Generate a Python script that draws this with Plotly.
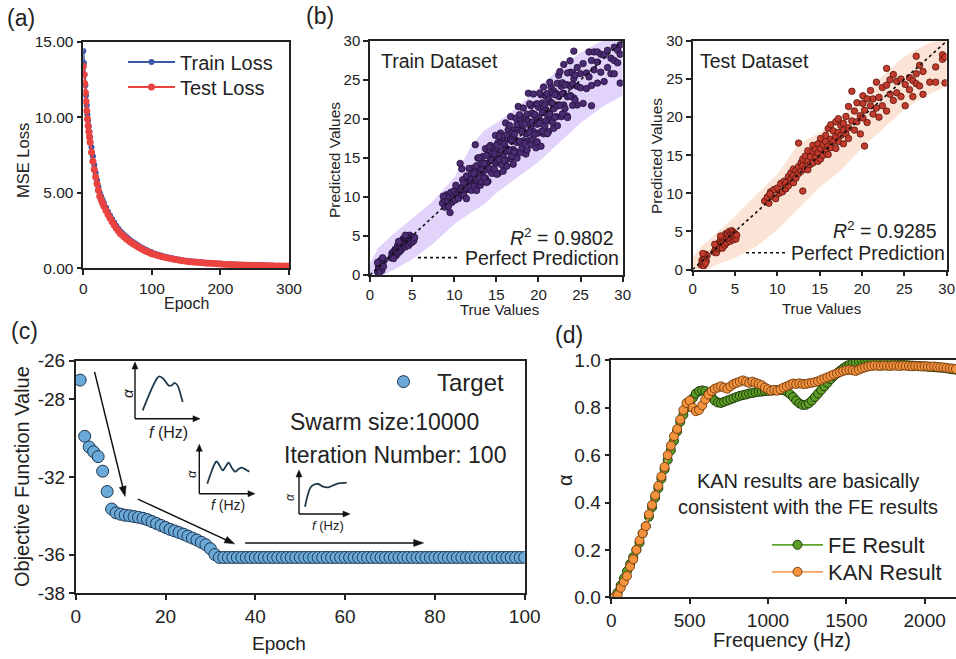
import math
import plotly.graph_objects as go

W, H = 956, 659
FONT = "Arial, Liberation Sans, Helvetica, sans-serif"
INK = "#222222"

# ---------------- (a) training / test loss ----------------
loss_epochs = [0, 1, 2, 3, 4, 5, 6, 7, 8, 9, 10,
               12, 14, 16, 18, 20, 22, 24, 26, 28, 30,
               33, 36, 39, 42, 45, 48, 51, 54, 57, 60, 63, 66, 69, 72, 75, 78, 81, 84, 87, 90, 93, 96, 99,
               100, 105, 110, 115, 120, 125, 130, 135, 140, 145, 150, 155, 160, 165, 170, 175, 180, 185,
               190, 195, 200, 205, 210, 215, 220, 225, 230, 235, 240, 245, 250, 255, 260, 265, 270, 275,
               280, 285, 290, 295, 300]
train_loss = [14.4, 13.6, 12.84, 12.13, 11.45, 10.81, 10.2, 9.8, 9.42, 9.05, 8.7,
              8.03, 7.42, 6.85, 6.33, 5.84, 5.4, 5.0, 4.77, 4.54, 4.33,
              4.03, 3.75, 3.5, 3.25, 3.03, 2.82, 2.63, 2.45, 2.32, 2.19, 2.07, 1.96, 1.85, 1.75, 1.66,
              1.57, 1.48, 1.4, 1.33, 1.25, 1.19, 1.12, 1.06,
              1.04, 0.96, 0.89, 0.83, 0.77, 0.72, 0.67, 0.62, 0.58, 0.54, 0.5, 0.48, 0.45, 0.43, 0.41,
              0.39, 0.37, 0.36, 0.34, 0.32, 0.31, 0.29, 0.28, 0.27, 0.25, 0.24, 0.24, 0.23, 0.22, 0.21,
              0.21, 0.2, 0.19, 0.19, 0.18, 0.18, 0.17, 0.17, 0.16, 0.16, 0.15]
test_loss = [13.4, 12.85, 12.25, 11.65, 11.05, 10.45, 9.9, 9.45, 9.05, 8.7, 8.35,
             7.7, 7.1, 6.55, 6.05, 5.6, 5.17, 4.78, 4.55, 4.33, 4.12,
             3.83, 3.56, 3.32, 3.08, 2.87, 2.67, 2.49, 2.31, 2.19, 2.07, 1.95, 1.85, 1.74, 1.65, 1.56,
             1.48, 1.39, 1.32, 1.25, 1.17, 1.12, 1.05, 0.99,
             0.97, 0.9, 0.83, 0.77, 0.72, 0.67, 0.62, 0.58, 0.54, 0.5, 0.47, 0.44, 0.42, 0.4, 0.38,
             0.36, 0.34, 0.33, 0.31, 0.3, 0.28, 0.27, 0.26, 0.25, 0.24, 0.23, 0.22, 0.21, 0.21, 0.2,
             0.19, 0.19, 0.18, 0.18, 0.17, 0.17, 0.16, 0.16, 0.15, 0.15, 0.15]

# ---------------- (b) true vs predicted ----------------
train_points = [
    (0.9, 0.4), (1.0, 1.1), (1.0, 0.7), (1.1, 1.5), (1.2, 0.9), (1.2, 1.8), (1.3, 1.3), (1.4, 0.6),
    (1.4, 2.0), (1.5, 1.5), (1.6, 1.1), (1.7, 1.9), (1.1, 0.3), (1.5, 2.2), (0.9, 1.6),
    (2.5, 2.2), (2.6, 2.8), (2.7, 2.4), (2.8, 3.0), (2.9, 2.6), (3.0, 3.3), (3.0, 2.9), (3.1, 2.5),
    (3.2, 3.5), (3.2, 3.0), (3.3, 3.8), (3.3, 2.8), (3.4, 3.3), (3.5, 3.9), (3.5, 3.0), (3.6, 3.6),
    (3.6, 4.1), (3.7, 3.2), (3.7, 3.8), (3.8, 4.3), (3.8, 3.5), (3.9, 4.0), (3.9, 4.6), (4.0, 3.7),
    (4.0, 4.3), (4.1, 4.8), (4.1, 4.0), (4.2, 3.6), (4.2, 4.5), (4.3, 4.9), (4.3, 4.2), (4.4, 3.9),
    (4.4, 4.6), (4.5, 5.0), (4.5, 4.3), (4.6, 4.7), (4.6, 3.8), (4.7, 4.4), (4.7, 5.1), (4.8, 4.8),
    (4.8, 4.1), (4.9, 4.5), (5.0, 4.9), (5.0, 4.2), (5.1, 4.6), (5.2, 4.4), (5.3, 4.8), (4.2, 5.1),
    (3.4, 4.3), (2.8, 2.1),
    (8.6, 9.2), (8.8, 9.7), (8.9, 8.7), (9.1, 10.3), (9.2, 9.5), (9.4, 10.1), (9.5, 8.0), (9.6, 10.6),
    (9.7, 9.3), (9.9, 10.0), (10.0, 10.8), (10.1, 9.6), (10.3, 10.3), (10.4, 11.2), (10.5, 9.8),
    (10.6, 10.6), (10.7, 14.3), (10.8, 11.0), (10.9, 13.6), (8.7, 10.1), (9.3, 8.8), (10.2, 11.5),
    (11.0, 11.3), (11.0, 10.2), (11.0, 12.2), (11.3, 11.8), (11.3, 10.9), (11.6, 12.6), (11.6, 11.0),
    (11.6, 11.6), (11.9, 11.0), (11.9, 12.3), (12.2, 13.7), (12.2, 12.0), (12.2, 11.0), (12.5, 16.7),
    (12.5, 13.3), (12.5, 12.0), (12.8, 15.0), (12.8, 11.9), (12.8, 13.1), (13.1, 14.1), (13.1, 11.5),
    (13.1, 13.1), (13.4, 15.2), (13.4, 12.7), (13.7, 14.3), (13.7, 12.4), (13.7, 16.2), (14.0, 13.7),
    (14.0, 15.4), (14.0, 12.0), (14.3, 16.6), (14.3, 13.5), (14.3, 14.8), (14.6, 16.2), (14.6, 13.1),
    (14.6, 14.6), (14.9, 17.9), (14.9, 14.3), (14.9, 15.8), (15.2, 13.0), (15.2, 17.0), (15.2, 15.0),
    (15.5, 18.2), (15.5, 15.9), (15.5, 14.3), (15.8, 15.2), (15.8, 17.3), (15.8, 13.3), (16.1, 19.5),
    (16.1, 16.3), (16.1, 14.7), (16.4, 17.4), (16.4, 16.1), (16.4, 18.6), (16.7, 14.9), (16.7, 17.4),
    (16.7, 20.3), (17.0, 16.1), (17.0, 18.6), (17.0, 14.2), (17.3, 20.1), (17.3, 17.3), (17.3, 15.8),
    (17.6, 18.8), (17.6, 17.1), (17.6, 21.6), (17.9, 15.7), (17.9, 18.5), (17.9, 19.9), (18.2, 17.2),
    (18.2, 21.4), (18.2, 18.5), (18.5, 20.3), (18.5, 15.5), (18.5, 18.1), (18.8, 23.3), (18.8, 19.7),
    (18.8, 17.2), (19.1, 18.9), (19.1, 21.7), (19.1, 16.7), (19.4, 20.6), (19.4, 18.4), (19.4, 23.2),
    (19.7, 16.3), (19.7, 20.2), (19.7, 21.9), (20.0, 21.5), (20.0, 18.2), (20.0, 20.2), (20.3, 16.5),
    (20.3, 23.1), (20.3, 19.7), (20.6, 21.6), (20.6, 18.1), (20.6, 24.1), (20.9, 19.7), (20.9, 21.2),
    (20.9, 22.9), (21.2, 18.4), (21.2, 22.6), (21.2, 20.9), (21.5, 24.1), (21.5, 19.9), (21.5, 22.1),
    (21.8, 21.3), (21.8, 23.6), (21.8, 18.8), (22.1, 23.3), (22.1, 20.3), (22.4, 25.6), (22.4, 21.8),
    (22.4, 22.9), (22.7, 20.3), (22.7, 24.2), (23.0, 23.3), (23.0, 27.0), (23.0, 21.8), (23.4, 20.4),
    (23.4, 24.4), (23.8, 26.0), (23.8, 23.0), (23.8, 24.2), (24.2, 28.7), (24.2, 22.7), (24.2, 25.2),
    (24.6, 24.2), (24.6, 21.8), (24.6, 26.6), (25.0, 25.8), (25.0, 24.0), (25.3, 22.0), (25.3, 27.1),
    (25.7, 25.9), (25.7, 23.9), (26.0, 28.6), (26.0, 25.4), (26.3, 21.7), (26.3, 27.5), (26.3, 24.3),
    (26.6, 28.6), (26.6, 26.3), (27.0, 28.6), (27.0, 24.6), (27.0, 27.3), (27.4, 26.0), (27.4, 28.3),
    (27.8, 24.8), (27.8, 28.2), (28.2, 28.8), (28.2, 26.6), (28.6, 25.8), (28.6, 27.8), (29.0, 29.2),
    (29.0, 25.8), (29.0, 27.5), (29.4, 28.8), (29.4, 27.2), (29.7, 24.6), (29.7, 29.5), (29.7, 28.3),
    (11.15, 11.76), (11.15, 10.24), (11.45, 11.14), (11.45, 12.7), (11.45, 9.79), (11.75, 13.66),
    (11.75, 11.33), (12.05, 12.27), (12.05, 10.85), (12.05, 13.03), (12.35, 13.02), (12.35, 11.35),
    (12.65, 12.31), (12.65, 14.02), (12.65, 10.83), (12.95, 15.04), (12.95, 12.49), (13.25, 13.49),
    (13.25, 11.94), (13.25, 14.32), (13.55, 14.28), (13.55, 12.46), (13.85, 13.48), (13.85, 15.34),
    (13.85, 11.87), (14.15, 16.42), (14.15, 13.65), (14.45, 14.71), (14.45, 13.03), (14.45, 15.61),
    (14.75, 15.54), (14.75, 13.57), (15.05, 14.65), (15.05, 16.66), (15.05, 12.91), (15.35, 17.8),
    (15.35, 14.81), (15.65, 15.93), (15.65, 14.12), (15.65, 16.9), (15.95, 16.8), (15.95, 14.68),
    (16.25, 15.82), (16.25, 17.98), (16.25, 13.95), (16.55, 19.18), (16.55, 15.97), (16.85, 17.15),
    (16.85, 15.21), (16.85, 18.19), (17.15, 18.06), (17.15, 15.79), (17.45, 16.99), (17.45, 19.3),
    (17.45, 14.99), (17.75, 20.56), (17.75, 17.13), (18.05, 18.37), (18.05, 16.3), (18.05, 19.48),
    (18.35, 19.32), (18.35, 16.9), (18.65, 18.16), (18.65, 20.62), (18.65, 16.03), (18.95, 21.94),
    (18.95, 18.29), (19.25, 19.59), (19.25, 17.39), (19.25, 20.77), (19.55, 20.58), (19.55, 18.01),
    (19.85, 19.33), (19.85, 21.94), (19.85, 17.07), (20.15, 23.32), (20.15, 19.45), (20.45, 20.81),
    (20.45, 18.48), (20.45, 22.06), (20.75, 21.84), (20.75, 19.12), (21.05, 20.5), (21.05, 23.26),
    (21.05, 18.11), (21.35, 24.7), (21.35, 20.61), (21.65, 22.03), (21.65, 19.57), (21.65, 23.35),
    (21.95, 23.1), (21.95, 20.23), (22.25, 21.67), (22.25, 24.58), (22.25, 19.15), (22.55, 26.08),
    (22.55, 21.77), (22.85, 23.25), (22.85, 20.66), (22.85, 24.64), (23.15, 24.36), (23.15, 21.34),
    (23.45, 22.84), (23.45, 25.9), (23.45, 20.19), (23.75, 27.46), (23.75, 22.93), (24.05, 24.47),
    (24.05, 21.75), (24.05, 25.93), (24.35, 25.62), (24.35, 22.45),
]
test_points = [
    (1.0, 0.6), (1.1, 1.2), (1.2, 0.9), (1.3, 1.7), (1.3, 0.5), (1.4, 1.4), (1.5, 2.0), (1.6, 1.1),
    (1.7, 1.8), (1.2, 2.1), (1.5, 0.8),
    (2.5, 2.3), (2.7, 2.8), (2.8, 2.2), (2.9, 3.2), (3.0, 2.7), (3.1, 3.5), (3.2, 2.9), (3.3, 3.9),
    (3.4, 3.3), (3.5, 2.8), (3.5, 4.1), (3.6, 3.6), (3.7, 4.4), (3.8, 3.2), (3.8, 3.9), (3.9, 4.7),
    (4.0, 4.1), (4.0, 3.5), (4.1, 4.6), (4.2, 3.9), (4.3, 5.0), (4.3, 4.3), (4.4, 3.7), (4.5, 4.8),
    (4.5, 4.1), (4.6, 5.1), (4.7, 4.4), (4.8, 3.9), (4.8, 4.9), (4.9, 4.3), (5.0, 4.7), (5.1, 4.0),
    (5.2, 4.5), (3.3, 4.4), (2.6, 3.3),
    (8.5, 9.0), (8.8, 9.5), (9.0, 8.7), (9.2, 10.2), (9.4, 9.6), (9.6, 10.5), (9.8, 9.3), (10.0, 10.7),
    (10.2, 10.0), (10.4, 11.3), (10.6, 10.2), (10.8, 11.6), (10.9, 10.6), (9.1, 9.9),
    (11.0, 11.4), (11.0, 10.6), (11.3, 12.2), (11.3, 11.0), (11.6, 11.9), (11.6, 12.7), (11.9, 12.3),
    (11.9, 11.4), (11.9, 13.2), (12.2, 13.0), (12.2, 12.0), (12.5, 16.6), (12.5, 13.5), (12.5, 12.6),
    (12.8, 14.0), (12.8, 12.9), (13.0, 10.3), (13.0, 13.6), (13.0, 14.5), (13.3, 13.2), (13.3, 14.9),
    (13.6, 14.2), (13.6, 15.6), (13.6, 13.1), (13.9, 14.8), (13.9, 13.8), (14.2, 15.5), (14.2, 14.0),
    (14.2, 16.3), (14.5, 14.7), (14.5, 15.8), (14.8, 16.5), (14.8, 14.2), (14.8, 15.3), (15.1, 15.9),
    (15.1, 17.2), (15.1, 14.5), (15.4, 16.4), (15.4, 15.0), (15.7, 17.6), (15.7, 15.5), (15.7, 16.8),
    (16.0, 16.2), (16.0, 18.5), (16.0, 15.1), (16.3, 17.1), (16.3, 19.0), (16.3, 16.0), (16.6, 18.2),
    (16.6, 16.8), (16.9, 19.4), (16.9, 17.5), (16.9, 15.9), (17.2, 18.0), (17.2, 16.8), (17.2, 19.8),
    (17.5, 17.6), (17.5, 18.9), (17.8, 19.2), (17.8, 16.5), (17.8, 18.3), (18.1, 20.1), (18.1, 17.8),
    (18.4, 18.6), (18.4, 21.4), (18.4, 17.2), (18.8, 23.4), (18.8, 19.5), (19.1, 18.3), (19.1, 20.8),
    (19.4, 21.9), (19.4, 19.4), (19.8, 20.2), (19.8, 17.8), (20.1, 21.8), (20.1, 19.9), (20.1, 22.8),
    (20.3, 16.2), (20.3, 20.9), (20.6, 22.4), (20.6, 19.3), (21.0, 21.5), (21.0, 23.5), (21.3, 20.4),
    (21.3, 22.4), (21.7, 24.6), (21.7, 21.2), (22.0, 22.6), (22.0, 20.0), (22.4, 23.9), (22.4, 21.5),
    (22.9, 26.4), (22.9, 24.2), (22.9, 20.8), (23.3, 23.0), (23.3, 24.9), (23.7, 22.2), (23.7, 25.6),
    (24.1, 24.7), (24.1, 23.2), (24.6, 22.7), (24.6, 25.0), (25.1, 21.5), (25.1, 24.3), (25.6, 25.2),
    (25.6, 23.6), (26.0, 22.7), (26.0, 24.8), (26.4, 28.0), (26.4, 24.4), (26.4, 25.7), (26.8, 24.1),
    (26.8, 26.8), (27.2, 23.0), (27.2, 26.0), (28.0, 24.6), (28.7, 24.6), (28.7, 26.6), (29.5, 27.6),
    (29.5, 28.2), (29.8, 24.5), (29.8, 27.9),
]
train_band_x = [0, 1, 2.5, 5, 7.5, 10, 12, 13.5, 15, 17.5, 20, 22.5, 25, 27.5, 30]
train_band_upper = [1.5, 3.5, 5.0, 7.2, 9.5, 12.5, 16.5, 18.5, 19.5, 21.5, 24.0, 26.5, 28.5, 30.0, 31.0]
train_band_lower = [-1.0, -0.5, 0.5, 2.0, 4.0, 6.5, 8.0, 9.0, 10.5, 12.5, 14.5, 17.0, 19.5, 21.5, 23.0]
test_band_x = [0, 1, 2.5, 5, 7.5, 10, 12.5, 15, 17.5, 20, 22.5, 25, 27.5, 30]
test_band_upper = [1.5, 3.0, 4.5, 7.0, 9.8, 12.5, 16.5, 18.0, 20.0, 22.5, 25.5, 28.0, 29.5, 30.5]
test_band_lower = [-1.0, -0.5, 0.5, 1.5, 3.0, 5.2, 8.0, 10.8, 13.0, 16.0, 18.5, 21.0, 22.8, 24.0]
perfect_line = [0, 30]
r2_train = "0.9802"
r2_test = "0.9285"

# ---------------- (c) optimisation history ----------------
pso_epochs = list(range(1, 101))
objective_values = [
    -27.0, -29.9, -30.45, -30.7, -30.95, -31.7, -32.75, -33.65, -33.85, -33.92,
    -33.97, -34.0, -34.04, -34.08, -34.13, -34.2, -34.3, -34.4, -34.5, -34.6,
    -34.7, -34.78, -34.86, -34.95, -35.05, -35.15, -35.25, -35.37, -35.5, -35.7,
    -36.0, -36.15, -36.15, -36.15, -36.15, -36.15, -36.15, -36.15, -36.15, -36.15,
    -36.15, -36.15, -36.15, -36.15, -36.15, -36.15, -36.15, -36.15, -36.15, -36.15,
    -36.15, -36.15, -36.15, -36.15, -36.15, -36.15, -36.15, -36.15, -36.15, -36.15,
    -36.15, -36.15, -36.15, -36.15, -36.15, -36.15, -36.15, -36.15, -36.15, -36.15,
    -36.15, -36.15, -36.15, -36.15, -36.15, -36.15, -36.15, -36.15, -36.15, -36.15,
    -36.15, -36.15, -36.15, -36.15, -36.15, -36.15, -36.15, -36.15, -36.15, -36.15,
    -36.15, -36.15, -36.15, -36.15, -36.15, -36.15, -36.15, -36.15, -36.15, -36.15,
]
c_ytick_vals = [-38, -36, -32, -28, -26]
c_ytick_text = ["-38", "-36", "-32", "-28", "-26"]

# ---------------- (d) absorption coefficient ----------------
freq_hz = list(range(20, 2201, 20))
fe_alpha = [
    0.0, 0.02, 0.05, 0.08, 0.11, 0.14, 0.17, 0.2, 0.23, 0.27,
    0.3, 0.34, 0.38, 0.42, 0.46, 0.5, 0.54, 0.58, 0.62, 0.66,
    0.7, 0.74, 0.77, 0.8, 0.82, 0.84, 0.86, 0.87, 0.873, 0.87,
    0.86, 0.845, 0.83, 0.822, 0.82, 0.825, 0.83, 0.835, 0.84, 0.845,
    0.85, 0.853, 0.856, 0.86, 0.862, 0.865, 0.867, 0.868, 0.87, 0.871,
    0.872, 0.873, 0.874, 0.875, 0.874, 0.868, 0.858, 0.845, 0.83, 0.818,
    0.812, 0.812, 0.818, 0.83, 0.845, 0.86, 0.875, 0.89, 0.905, 0.92,
    0.933, 0.945, 0.956, 0.966, 0.975, 0.982, 0.988, 0.993, 0.997, 0.999,
    1.0, 1.0, 0.999, 0.997, 0.994, 0.991, 0.989, 0.987, 0.985, 0.984,
    0.983, 0.982, 0.981, 0.98, 0.979, 0.978, 0.977, 0.976, 0.975, 0.974,
    0.973, 0.972, 0.971, 0.97, 0.969, 0.968, 0.966, 0.964, 0.962, 0.96,
]
kan_alpha = [
    0.0, 0.01, 0.04, 0.065, 0.09, 0.13, 0.16, 0.2, 0.24, 0.27,
    0.3, 0.35, 0.39, 0.43, 0.47, 0.51, 0.55, 0.6, 0.64, 0.68,
    0.71, 0.75, 0.79, 0.82, 0.83, 0.8, 0.785, 0.79, 0.81, 0.835,
    0.855, 0.87, 0.88, 0.885, 0.89, 0.885, 0.88, 0.89, 0.9, 0.905,
    0.91, 0.915, 0.91, 0.905, 0.91, 0.905, 0.9, 0.895, 0.885, 0.878,
    0.872, 0.875, 0.872, 0.878, 0.885, 0.89, 0.897, 0.902, 0.9, 0.903,
    0.9, 0.9, 0.903, 0.905, 0.908, 0.912, 0.918, 0.923, 0.928, 0.934,
    0.94, 0.945, 0.95, 0.955, 0.958, 0.96, 0.958, 0.955, 0.96, 0.966,
    0.97, 0.974, 0.976, 0.978, 0.977, 0.976, 0.978, 0.977, 0.976, 0.978,
    0.977, 0.976, 0.978, 0.977, 0.976, 0.975, 0.976, 0.975, 0.974, 0.975,
    0.974, 0.973, 0.974, 0.972, 0.971, 0.97, 0.968, 0.966, 0.965, 0.963,
]

assert len(loss_epochs) == len(train_loss) == len(test_loss)
assert len(freq_hz) == len(fe_alpha) == len(kan_alpha)
assert len(pso_epochs) == len(objective_values)

# ---------------- panel boxes (pixels) ----------------
BOX_A = (83.3, 289, 42, 268.3)
BOX_BL = (370, 622.7, 41, 275)
BOX_BR = (692.7, 946.7, 41, 269.5)
BOX_C = (75.7, 524.7, 360.7, 593.3)
BOX_D = (611.3, 956, 360.3, 597.3)
C_XRANGE = (0, 100)
C_YRANGE = (-38, -26)


def PX(x):
    return x / W


def PY(y):
    return 1 - y / H


def dom_x(box):
    return [max(0, box[0] / W), min(1, box[1] / W)]


def dom_y(box):
    return [1 - box[3] / H, 1 - box[2] / H]


def c_px(epoch, value):
    x0, x1, y0, y1 = BOX_C
    px = x0 + (epoch - C_XRANGE[0]) / (C_XRANGE[1] - C_XRANGE[0]) * (x1 - x0)
    py = y0 + (C_YRANGE[1] - value) / (C_YRANGE[1] - C_YRANGE[0]) * (y1 - y0)
    return px, py


def axis(**kw):
    d = dict(showline=True, linecolor=INK, linewidth=1.5, mirror=True, ticks="outside",
             ticklen=5, tickwidth=1.5, tickcolor=INK, showgrid=False, zeroline=False,
             automargin=False, tickfont=dict(family=FONT, size=15, color=INK), fixedrange=True)
    d.update(kw)
    return d


def legend_box(x, y, size, itemwidth):
    return dict(x=PX(x), y=PY(y), xanchor="left", yanchor="middle", bgcolor="rgba(0,0,0,0)",
                borderwidth=0, itemwidth=itemwidth, tracegroupgap=0,
                font=dict(family=FONT, size=size, color=INK))


annotations = []
shapes = []


def text(t, x, y, size, angle=0, xanchor="center", color=INK):
    annotations.append(dict(text=t, x=PX(x), y=PY(y), xref="paper", yref="paper", showarrow=False,
                            xanchor=xanchor, yanchor="middle", textangle=angle,
                            font=dict(family=FONT, size=size, color=color)))


def arrow(tail, head, width=1.4, head_len=8, head_w=6, color="#111111"):
    tx, ty = tail
    hx, hy = head
    L = math.hypot(hx - tx, hy - ty)
    ux, uy = (hx - tx) / L, (hy - ty) / L
    bx, by = hx - ux * head_len, hy - uy * head_len
    nx, ny = -uy, ux
    shapes.append(dict(type="line", xref="paper", yref="paper", x0=PX(tx), y0=PY(ty),
                       x1=PX(bx + ux), y1=PY(by + uy), line=dict(color=color, width=width)))
    p1 = (bx + nx * head_w / 2, by + ny * head_w / 2)
    p2 = (bx - nx * head_w / 2, by - ny * head_w / 2)
    path = "M{:.5f},{:.5f} L{:.5f},{:.5f} L{:.5f},{:.5f} Z".format(
        PX(hx), PY(hy), PX(p1[0]), PY(p1[1]), PX(p2[0]), PY(p2[1]))
    shapes.append(dict(type="path", xref="paper", yref="paper", path=path, fillcolor=color,
                       line=dict(color=color, width=0.5)))


def smooth_path(points):
    pts = [(PX(x), PY(y)) for x, y in points]
    d = "M{:.5f},{:.5f}".format(*pts[0])
    n = len(pts)
    for i in range(n - 1):
        p0 = pts[i - 1] if i > 0 else pts[i]
        p1, p2 = pts[i], pts[i + 1]
        p3 = pts[i + 2] if i + 2 < n else pts[i + 1]
        c1 = (p1[0] + (p2[0] - p0[0]) / 6, p1[1] + (p2[1] - p0[1]) / 6)
        c2 = (p2[0] - (p3[0] - p1[0]) / 6, p2[1] - (p3[1] - p1[1]) / 6)
        d += " C{:.5f},{:.5f} {:.5f},{:.5f} {:.5f},{:.5f}".format(c1[0], c1[1], c2[0], c2[1], p2[0], p2[1])
    return d


def sketch(origin, y_top, x_end, curve, a_pos, a_size, f_pos, f_size, dy):
    ox, oy = origin[0], origin[1] + dy
    arrow((ox, oy), (ox, y_top + dy), width=1.4, head_len=7, head_w=6)
    arrow((ox, oy), (x_end, oy), width=1.4, head_len=7, head_w=6)
    shapes.append(dict(type="path", xref="paper", yref="paper",
                       path=smooth_path([(x, y + dy) for x, y in curve]),
                       line=dict(color="#1f3b4d", width=1.8)))
    text("<i>α</i>", a_pos[0], a_pos[1] + dy, a_size, angle=-90)
    text("<i>f</i> (Hz)", f_pos[0], f_pos[1] + dy, f_size)


fig = go.Figure()

# ---------------- (a) ----------------
fig.add_trace(go.Scatter(x=loss_epochs, y=train_loss, mode="lines+markers", name="Train Loss",
                         line=dict(color="#3a57a8", width=2), marker=dict(color="#3a57a8", size=6),
                         xaxis="x", yaxis="y", legend="legend"))
fig.add_trace(go.Scatter(x=loss_epochs, y=test_loss, mode="lines+markers", name="Test Loss",
                         line=dict(color="#ea4340", width=2), marker=dict(color="#ea4340", size=7),
                         xaxis="x", yaxis="y", legend="legend2"))

# ---------------- (b) ----------------
panels_b = [
    (train_band_x, train_band_upper, train_band_lower, train_points, "#e2d3fa", "#4b2c72", "#22103a",
     "x2", "y2", "legend3"),
    (test_band_x, test_band_upper, test_band_lower, test_points, "#fbe4d6", "#c23b2e", "#561409",
     "x3", "y3", "legend4"),
]
for bx, bu, bl, pts, band_col, mcol, mline, xa, ya, lg in panels_b:
    fig.add_trace(go.Scatter(x=bx + bx[::-1], y=bu + bl[::-1], fill="toself", fillcolor=band_col,
                             line=dict(width=0), mode="lines", hoverinfo="skip", showlegend=False,
                             xaxis=xa, yaxis=ya))
    fig.add_trace(go.Scatter(x=[p[0] for p in pts], y=[p[1] for p in pts], mode="markers",
                             marker=dict(color=mcol, size=6.5, line=dict(color=mline, width=0.8)),
                             showlegend=False, xaxis=xa, yaxis=ya))
    fig.add_trace(go.Scatter(x=perfect_line, y=perfect_line, mode="lines", name="Perfect Prediction",
                             line=dict(color="#111111", width=1.6, dash="dot"),
                             xaxis=xa, yaxis=ya, legend=lg))

# ---------------- (c) ----------------
fig.add_trace(go.Scatter(x=pso_epochs, y=objective_values, mode="markers", name="Target",
                         marker=dict(color="#6aa9d8", size=12, line=dict(color="#1c3550", width=1)),
                         xaxis="x4", yaxis="y4", legend="legend5"))

# ---------------- (d) ----------------
fig.add_trace(go.Scatter(x=freq_hz, y=fe_alpha, mode="lines+markers", name="FE Result",
                         line=dict(color="#5ea52c", width=1.8),
                         marker=dict(color="#5e9e28", size=9, line=dict(color="#1d3a08", width=1)),
                         xaxis="x5", yaxis="y5", legend="legend6"))
fig.add_trace(go.Scatter(x=freq_hz, y=kan_alpha, mode="lines+markers", name="KAN Result",
                         line=dict(color="#f3a263", width=1.8),
                         marker=dict(color="#f5923e", size=9, line=dict(color="#6e3a0c", width=0.9)),
                         xaxis="x5", yaxis="y5", legend="legend7"))

# ---------------- text ----------------
text("(a)", 21, 18, 23)
text("(b)", 320, 16, 23)
text("(c)", 24, 331, 23)
text("(d)", 569, 335, 23)

text("MSE Loss", 23, 161, 16.5, angle=-90)
text("Epoch", 186, 304, 16)
text("Predicted Values", 335, 160, 15.5, angle=-90)
text("True Values", 499, 310, 15)
text("Predicted Values", 657, 156, 15.5, angle=-90)
text("True Values", 821, 309, 15)
text("Objective Function Value", 22, 477, 20, angle=-90)
text("Epoch", 279, 643, 19)
text("α", 565, 480, 20, angle=-90)
text("Frequency (Hz)", 782, 640, 20)

text("Train Dataset", 379, 61, 19.5, xanchor="left")
text("Test Dataset", 698, 61, 19.5, xanchor="left")
text("<i>R</i><sup>2</sup> = " + r2_train, 616, 237, 19.5, xanchor="right")
text("<i>R</i><sup>2</sup> = " + r2_test, 939, 230, 19.5, xanchor="right")

text("Swarm size:10000", 384, 422, 23)
text("Iteration Number: 100", 395, 455, 23)
text("KAN results are basically<br>consistent with the FE results", 808, 494, 20)

# (c) trend arrows, positioned in the panel's data units
for tail, head in [((4.2, -26.58), (11.0, -33.0)),
                   ((13.85, -33.14), (35.4, -35.45)),
                   ((37.75, -35.4), (77.5, -35.4))]:
    arrow(c_px(*tail), c_px(*head), width=1.5, head_len=10, head_w=7)

# (c) sketch insets
sketch((135, 421.7), 365, 200,
       [(142.7, 413.3), (151.7, 391.7), (156.7, 381.7), (159.3, 379.3), (163.3, 381.7), (168.3, 388.3),
        (171.7, 388.3), (175, 386), (178.3, 390), (182.7, 405)],
       (127, 397), 15, (168.3, 435), 16, -3)
sketch((199.3, 502.7), 453.3, 255,
       [(207.3, 492.7), (211.7, 480), (216, 470.7), (219.3, 474), (222.7, 479.3), (226, 475),
        (228.7, 471.7), (231.7, 476.7), (235, 480.7), (238.3, 478.3), (241.7, 476.7), (246, 478.7),
        (249.3, 480.7)],
       (191.7, 483.3), 13, (227.7, 514.3), 14, -9)
sketch((299, 524), 480, 350,
       [(305, 516.7), (307.3, 506.7), (310, 498.3), (313.3, 495), (318.3, 494), (323.3, 496.7),
        (328.3, 497.3), (333.3, 495.3), (338.3, 493.3), (346.7, 492.7)],
       (289.3, 506.7), 12, (328.3, 535), 13, -10)

fig.update_layout(
    width=W, height=H, margin=dict(l=0, r=0, t=0, b=0, pad=0, autoexpand=False),
    paper_bgcolor="white", plot_bgcolor="white", font=dict(family=FONT, color=INK),
    showlegend=True, annotations=annotations, shapes=shapes,
    xaxis=axis(domain=dom_x(BOX_A), anchor="y", range=[0, 300], tickvals=[0, 100, 200, 300],
               tickfont=dict(family=FONT, size=15.5, color=INK)),
    yaxis=axis(domain=dom_y(BOX_A), anchor="x", range=[0, 15], tickvals=[0, 5, 10, 15],
               tickformat=".2f", tickfont=dict(family=FONT, size=15.5, color=INK)),
    xaxis2=axis(domain=dom_x(BOX_BL), anchor="y2", range=[0, 30], dtick=5),
    yaxis2=axis(domain=dom_y(BOX_BL), anchor="x2", range=[0, 30], dtick=5),
    xaxis3=axis(domain=dom_x(BOX_BR), anchor="y3", range=[0, 30], dtick=5),
    yaxis3=axis(domain=dom_y(BOX_BR), anchor="x3", range=[0, 30], dtick=5),
    xaxis4=axis(domain=dom_x(BOX_C), anchor="y4", range=list(C_XRANGE), dtick=20,
                tickfont=dict(family=FONT, size=19, color=INK)),
    yaxis4=axis(domain=dom_y(BOX_C), anchor="x4", range=list(C_YRANGE), tickvals=c_ytick_vals,
                ticktext=c_ytick_text, tickfont=dict(family=FONT, size=19, color=INK)),
    xaxis5=axis(domain=dom_x(BOX_D), anchor="y5", range=[0, 2200],
                tickvals=[0, 500, 1000, 1500, 2000], tickfont=dict(family=FONT, size=19, color=INK)),
    yaxis5=axis(domain=dom_y(BOX_D), anchor="x5", range=[0, 1], dtick=0.2, tickformat=".1f",
                tickfont=dict(family=FONT, size=19, color=INK)),
    legend=legend_box(123, 62, 20, 47),
    legend2=legend_box(123, 87, 20, 47),
    legend3=legend_box(413, 258, 19.5, 42),
    legend4=legend_box(741, 253, 19.5, 40),
    legend5=legend_box(370, 382, 24, 57),
    legend6=legend_box(767, 545, 22, 51),
    legend7=legend_box(767, 572, 22, 51),
)

# Pin the plot to the page's top-left corner so the 956x659 figure fills the window exactly.
PAGE_FIT = ("var gd=document.getElementById('{plot_id}');"
            "document.documentElement.style.margin='0';document.body.style.margin='0';"
            "document.body.style.padding='0';gd.style.position='absolute';"
            "gd.style.left='0px';gd.style.top='0px';")

fig.write_html("out.html", config={"displayModeBar": False}, post_script=PAGE_FIT)
